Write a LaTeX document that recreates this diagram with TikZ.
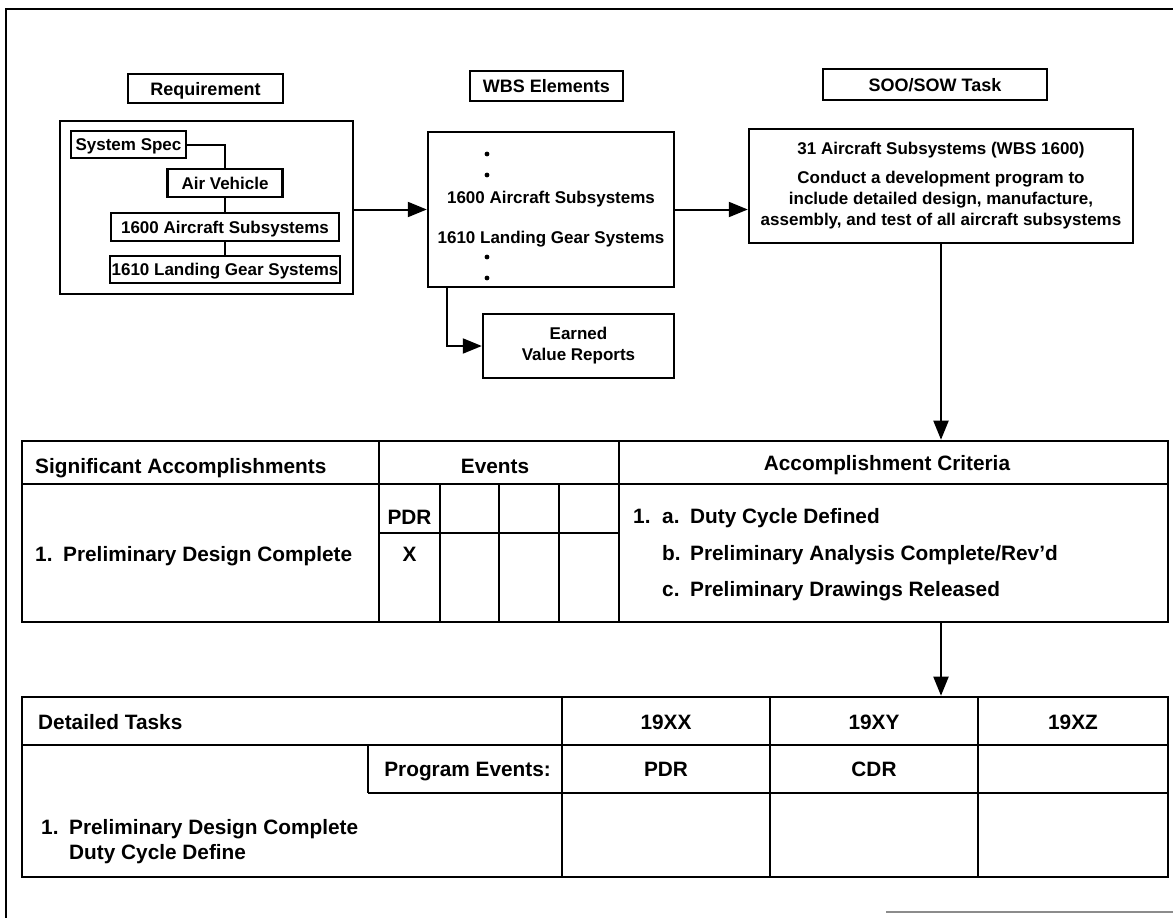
\documentclass[tikz,border=0pt]{standalone}
\usepackage{fontspec}
\setmainfont{Liberation Sans}
\usetikzlibrary{arrows.meta}
\newcommand{\fsmall}{\fontsize{17}{21}\selectfont\bfseries}
\newcommand{\flabel}{\fontsize{18}{22}\selectfont\bfseries}
\newcommand{\ftab}{\fontsize{20.8}{25}\selectfont\bfseries}
\begin{document}
\begin{tikzpicture}[x=1pt, y=-1pt, >={Triangle[length=19pt,width=15pt]},
  box/.style={draw, rectangle, line width=2.4pt, inner sep=1pt},
  tag/.style={box, font=\flabel, text height=13pt, text depth=0pt},
  item/.style={box, font=\fsmall, text height=12.2pt, text depth=0pt},
  sm/.style={font=\fsmall, inner sep=0pt, text height=12.2pt, text depth=0pt},
  cell/.style={font=\ftab, inner sep=0pt, text height=14.9pt, text depth=0pt},
  rule/.style={line width=2.6pt},
  conn/.style={line width=2pt}]
\useasboundingbox (0,0) rectangle (1173,918);
\draw[line width=2.6pt] (6,918) -- (6,9) -- (1173,9);
\draw[line width=1.8pt, black!45] (886,912) -- (1173,912);

\node[tag, minimum width=155pt, minimum height=29pt] (reqLbl) at (205.5,88.5) {Requirement};
\node[tag, minimum width=153pt, minimum height=30pt] (wbsLbl) at (546.5,86) {WBS Elements};
\node[tag, minimum width=224pt, minimum height=31pt] (sooLbl) at (935,84.5) {SOO/SOW Task};

\node[box, minimum width=293pt, minimum height=173pt] (req) at (206.5,207.5) {};
\node[item, minimum width=115pt, minimum height=27pt] (spec) at (128.5,144.5) {System Spec};
\node[item, minimum width=115pt, minimum height=28pt] (veh) at (225,183) {Air Vehicle};
\node[item, minimum width=228pt, minimum height=28pt] (sub) at (225,227) {1600 Aircraft Subsystems};
\node[item, minimum width=230pt, minimum height=27pt] (gear) at (225,269.5) {1610 Landing Gear Systems};
\draw[conn] (spec.east) -| (veh.north);
\draw[conn] (veh.south) -- (sub.north);
\draw[conn] (sub.south) -- (gear.north);

\node[box, minimum width=246pt, minimum height=155pt] (wbs) at (551,209.5) {};
\node[sm] (wbsA) at (551,197) {1600 Aircraft Subsystems};
\node[sm] (wbsB) at (551,237) {1610 Landing Gear Systems};
\foreach \y in {154,175,257,278}
  \fill (487,\y) circle (2.4pt);
\node[box, minimum width=191pt, minimum height=64pt, align=center, font=\fsmall] (earn) at (578.5,346) {Earned\\Value Reports};

\node[box, minimum width=384pt, minimum height=114pt, align=center, font=\fsmall] (soo) at (941,186)
  {31 Aircraft Subsystems (WBS 1600)\\[8pt]Conduct a development program to\\include detailed design, manufacture,\\assembly, and test of all aircraft subsystems};

\draw[conn, ->] (req.east |- wbs) -- (wbs.west);
\draw[conn, ->] (wbs.east) -- (wbs.east -| soo.west);
\draw[conn, ->] ([xshift=20pt]wbs.south west) |- (earn.west);

\node[box, line width=2.6pt, minimum width=1146pt, minimum height=181pt] (tabA) at (595,531.5) {};
\draw[rule] (22,484) -- (1168,484);
\draw[rule] (379,441) -- (379,622);
\draw[rule] (619,441) -- (619,622);
\foreach \x in {440,499,559}
  \draw[rule] (\x,484) -- (\x,622);
\draw[rule] (379,533) -- (619,533);
\node[cell, anchor=west] (sigHd) at (35,466) {Significant Accomplishments};
\node[cell] (evHd) at (495,466) {Events};
\node[cell] (crHd) at (887,463) {Accomplishment Criteria};
\node[cell, anchor=west] (sigA) at (35,554) {\makebox[28pt][l]{1.}Preliminary Design Complete};
\node[cell] (pdrA) at (409.5,517) {PDR};
\node[cell] (mark) at (409.5,554) {X};
\node[cell, anchor=west] (critA) at (633,516) {\makebox[29pt][l]{1.}\makebox[28pt][l]{a.}Duty Cycle Defined};
\node[cell, anchor=west] (critB) at (662,553) {\makebox[28pt][l]{b.}Preliminary Analysis Complete/Rev’d};
\node[cell, anchor=west] (critC) at (662,589) {\makebox[28pt][l]{c.}Preliminary Drawings Released};

\node[box, line width=2.6pt, minimum width=1146pt, minimum height=180pt] (tabB) at (595,787) {};
\draw[rule] (22,745) -- (1168,745);
\draw[rule] (368,793) -- (1168,793);
\draw[rule] (368,745) -- (368,793);
\foreach \x in {562,770,978}
  \draw[rule] (\x,697) -- (\x,877);
\node[cell, anchor=west] (taskHd) at (38,722) {Detailed Tasks};
\node[cell] (yrA) at (666,722) {19XX};
\node[cell] (yrB) at (874,722) {19XY};
\node[cell] (yrC) at (1073,722) {19XZ};
\node[cell, anchor=east] (pev) at (551,769) {Program Events:};
\node[cell] (pdrB) at (666,769) {PDR};
\node[cell] (cdr) at (874,769) {CDR};
\node[cell, anchor=west] (taskA) at (41,827) {\makebox[28pt][l]{1.}Preliminary Design Complete};
\node[cell, anchor=west] (taskB) at (69,852) {Duty Cycle Define};

\draw[conn, ->] (soo.south) -- (soo.south |- tabA.north);
\draw[conn, ->] (tabA.south -| soo.south) -- (tabB.north -| soo.south);
\end{tikzpicture}
\end{document}
